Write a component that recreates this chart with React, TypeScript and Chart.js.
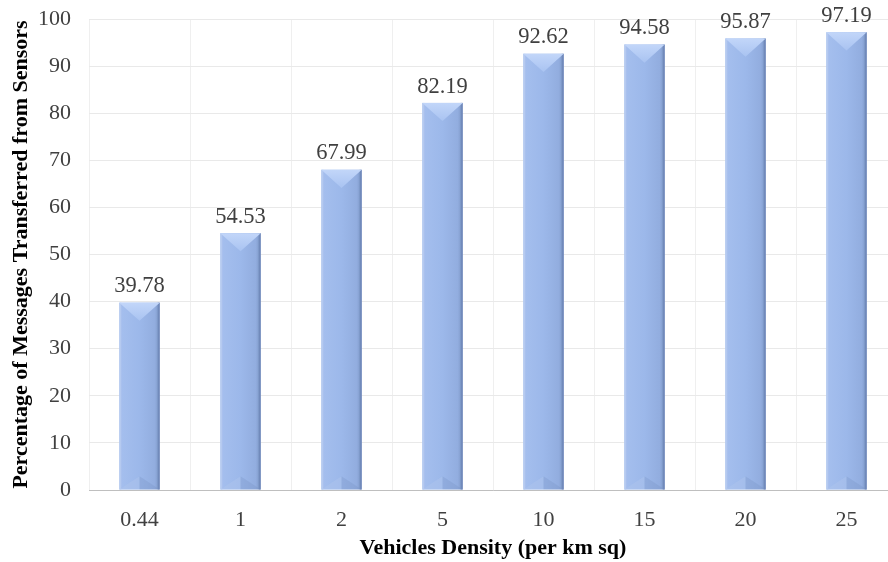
import React, { useEffect, useRef } from "react";
import { Chart, registerables } from "chart.js";

Chart.register(...registerables);

const categories = ["0.44", "1", "2", "5", "10", "15", "20", "25"];
const values = [39.78, 54.53, 67.99, 82.19, 92.62, 94.58, 95.87, 97.19];
const yTicks = [0, 10, 20, 30, 40, 50, 60, 70, 80, 90, 100];

const FONT = "'Liberation Serif', 'Times New Roman', serif";

const bevelPlugin = {
  id: "bevel",
  afterDatasetsDraw(chart: any) {
    const ctx = chart.ctx;
    const meta = chart.getDatasetMeta(0);
    meta.data.forEach((bar: any, i: number) => {
      const { x, y, base, width } = bar.getProps(["x", "y", "base", "width"], true);
      const l = x - width / 2;
      const r = x + width / 2;
      const t = y;
      const b = base;
      const th = width * 0.45;
      const bh = width * 0.33;
      ctx.save();
      const g = ctx.createLinearGradient(l, 0, r, 0);
      g.addColorStop(0, "#a5bfee");
      g.addColorStop(0.5, "#9cb8ea");
      g.addColorStop(0.88, "#92addf");
      g.addColorStop(1, "#7a94c3");
      ctx.fillStyle = g;
      ctx.fillRect(l, t, width, b - t);
      ctx.fillStyle = "rgba(185,205,240,0.8)";
      ctx.fillRect(l, t, 2, b - t);
      ctx.fillStyle = "rgba(110,135,185,0.85)";
      ctx.fillRect(r - 2, t, 2, b - t);
      const gt = ctx.createLinearGradient(0, t, 0, t + th);
      gt.addColorStop(0, "#c2d6f9");
      gt.addColorStop(1, "#a9c3f1");
      ctx.fillStyle = gt;
      ctx.beginPath();
      ctx.moveTo(l, t);
      ctx.lineTo(r, t);
      ctx.lineTo(x, t + th);
      ctx.closePath();
      ctx.fill();
      if (b - t > th + bh) {
        ctx.fillStyle = "rgba(175,198,238,0.45)";
        ctx.beginPath();
        ctx.moveTo(l, b);
        ctx.lineTo(x, b - bh);
        ctx.lineTo(x, b);
        ctx.closePath();
        ctx.fill();
        ctx.fillStyle = "rgba(120,145,195,0.3)";
        ctx.beginPath();
        ctx.moveTo(x, b);
        ctx.lineTo(x, b - bh);
        ctx.lineTo(r, b);
        ctx.closePath();
        ctx.fill();
      }
      ctx.fillStyle = "#404040";
      ctx.font = `22.5px ${FONT}`;
      ctx.textAlign = "center";
      ctx.textBaseline = "bottom";
      ctx.fillText(values[i].toFixed(2), x, t - 5);
      ctx.restore();
    });
  },
};

export default function App() {
  const ref = useRef<HTMLCanvasElement>(null);
  useEffect(() => {
    document.body.style.margin = "0";
    document.body.style.overflow = "hidden";
    const chart = new Chart(ref.current!, {
      type: "bar",
      data: {
        labels: categories,
        datasets: [
          {
            data: values,
            backgroundColor: "rgba(0,0,0,0)",
            borderWidth: 0,
            barPercentage: 0.4,
            categoryPercentage: 1,
          },
        ],
      },
      options: {
        animation: false,
        responsive: false,
        maintainAspectRatio: false,
        layout: { padding: { top: 19, right: 3, left: 8, bottom: 0 } },
        plugins: { legend: { display: false }, tooltip: { enabled: false } },
        scales: {
          x: {
            afterFit: (s: any) => {
              s.paddingLeft = 0;
              s.paddingRight = 0;
              s.height = 72;
            },
            grid: { color: "#efefef", drawTicks: false, offset: true },
            border: { color: "#bfbfbf", width: 1 },
            ticks: { color: "#404040", font: { family: FONT, size: 22 }, padding: 17 },
            title: {
              display: true,
              text: "Vehicles Density (per km sq)",
              color: "#000",
              font: { family: FONT, size: 22, weight: "bold" },
              padding: { top: 3, bottom: 0 },
            },
          },
          y: {
            min: 0,
            max: 100,
            afterBuildTicks: (axis: any) => {
              axis.ticks = yTicks.map((v) => ({ value: v }));
            },
            afterFit: (s: any) => {
              s.paddingTop = 0;
              s.paddingBottom = 0;
              s.width = 81;
            },
            grid: { color: "#e9e9e9", drawTicks: false },
            border: { display: false },
            ticks: { color: "#404040", font: { family: FONT, size: 22 }, padding: 18 },
            title: {
              display: true,
              text: "Percentage of Messages Transferred from Sensors",
              color: "#000",
              font: { family: FONT, size: 22, weight: "bold" },
              padding: { top: 0, bottom: 6 },
            },
          },
        },
      },
      plugins: [bevelPlugin],
    });
    return () => chart.destroy();
  }, []);
  return (
    <div style={{ width: 888, height: 562, overflow: "hidden" }}>
      <canvas ref={ref} width={900} height={562} style={{ display: "block" }} />
    </div>
  );
}
